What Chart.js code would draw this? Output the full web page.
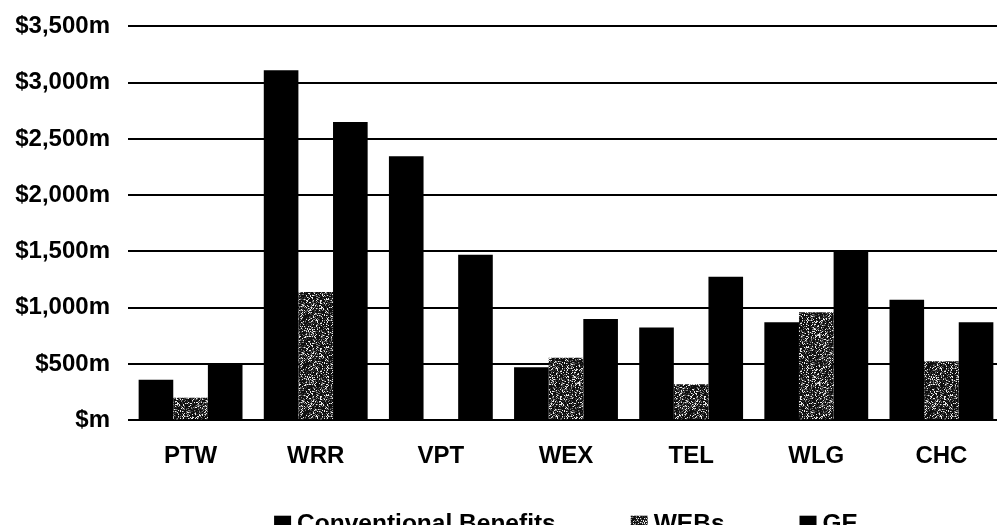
<!DOCTYPE html>
<html>
<head>
<meta charset="utf-8">
<script src="https://cdn.jsdelivr.net/npm/chart.js@4.4.1/dist/chart.umd.min.js"></script>
<style>
  html, body { margin: 0; padding: 0; background: #fff; overflow: hidden; }
  #wrap { position: relative; width: 1004px; height: 531px; margin-top: -6px; }
</style>
</head>
<body>
<div id="wrap"><canvas id="chart"></canvas></div>
<script>
// Benefits by project ($m)
const projects = ['PTW', 'WRR', 'VPT', 'WEX', 'TEL', 'WLG', 'CHC'];
const conventionalBenefits = [360, 3110, 2345, 470, 825, 870, 1070];
const webs = [200, 1140, 0, 555, 320, 960, 525];
const ge = [495, 2650, 1470, 900, 1275, 1505, 870];
const seriesNames = ['Conventional Benefits', 'WEBs', 'GE'];
const yTickValues = [0, 500, 1000, 1500, 2000, 2500, 3000, 3500];

const FONT_FAMILY = '"Liberation Sans", Arial, sans-serif';
const tickFont = { family: FONT_FAMILY, size: 24, weight: 'bold' };

// Speckled dark fill for the WEBs bars (deterministic hash texture)
function speckle() {
  const size = 48;
  const c = document.createElement('canvas');
  c.width = size; c.height = size;
  const g = c.getContext('2d');
  const img = g.createImageData(size, size);
  for (let y = 0; y < size; y++) {
    for (let x = 0; x < size; x++) {
      let h = (x * 374761393 + y * 668265263) | 0;
      h = Math.imul(h ^ (h >>> 13), 1274126177);
      h = ((h ^ (h >>> 16)) >>> 0) / 4294967296;
      let v;
      if (h < 0.15) v = 235;
      else if (h < 0.27) v = 130;
      else if (h < 0.45) v = 55;
      else v = 15;
      const i = (y * size + x) * 4;
      img.data[i] = img.data[i + 1] = img.data[i + 2] = v;
      img.data[i + 3] = 255;
    }
  }
  g.putImageData(img, 0, 0);
  return g.createPattern(c, 'repeat');
}

// Legend row centred under the plot area
const bottomLegend = {
  id: 'bottomLegend',
  afterDraw(chart, args, opts) {
    const { ctx, chartArea } = chart;
    ctx.save();
    ctx.font = `bold ${opts.fontSize}px ${FONT_FAMILY}`;
    const items = chart.data.datasets.map(ds => ({
      text: ds.label,
      fill: ds.backgroundColor,
      width: opts.box + opts.gap + ctx.measureText(ds.label).width
    }));
    const total = items.reduce((s, it) => s + it.width, 0) + opts.spacing * (items.length - 1);
    let x = (chartArea.left + chartArea.right) / 2 - total / 2;
    const y = chartArea.bottom + opts.offset;
    ctx.textBaseline = 'middle';
    ctx.textAlign = 'left';
    items.forEach(it => {
      ctx.fillStyle = it.fill;
      ctx.fillRect(x, y - opts.box / 2, opts.box, opts.box);
      ctx.fillStyle = '#000';
      ctx.fillText(it.text, x + opts.box + opts.gap, y);
      x += it.width + opts.spacing;
    });
    ctx.restore();
  }
};

new Chart(document.getElementById('chart'), {
  type: 'bar',
  data: {
    labels: projects,
    datasets: [
      { label: seriesNames[0], data: conventionalBenefits, backgroundColor: '#000' },
      { label: seriesNames[1], data: webs, backgroundColor: speckle() },
      { label: seriesNames[2], data: ge, backgroundColor: '#000' }
    ]
  },
  plugins: [bottomLegend],
  options: {
    responsive: true,
    maintainAspectRatio: false,
    animation: false,
    devicePixelRatio: 1,
    layout: { padding: { top: 20, right: 0, bottom: 32, left: 0 } },
    datasets: { bar: { categoryPercentage: 0.83, barPercentage: 1.0, borderWidth: 0 } },
    plugins: {
      tooltip: { enabled: false },
      legend: { display: false },
      bottomLegend: { fontSize: 24.5, box: 17, gap: 6, spacing: 75, offset: 104 }
    },
    scales: {
      x: {
        grid: { display: false, drawTicks: false },
        border: { display: false },
        ticks: { color: '#000', font: tickFont, padding: 22 }
      },
      y: {
        min: 0,
        max: 3500,
        afterBuildTicks: s => { s.ticks = yTickValues.map(v => ({ value: v })); },
        grid: { color: '#000', lineWidth: 2, drawTicks: false },
        border: { display: false },
        ticks: {
          color: '#000',
          font: tickFont,
          padding: 18,
          callback: v => v === 0 ? '$m' : '$' + v.toLocaleString('en-US') + 'm'
        },
        afterFit: s => { s.width = 128; }
      }
    }
  }
});
</script>
</body>
</html>
